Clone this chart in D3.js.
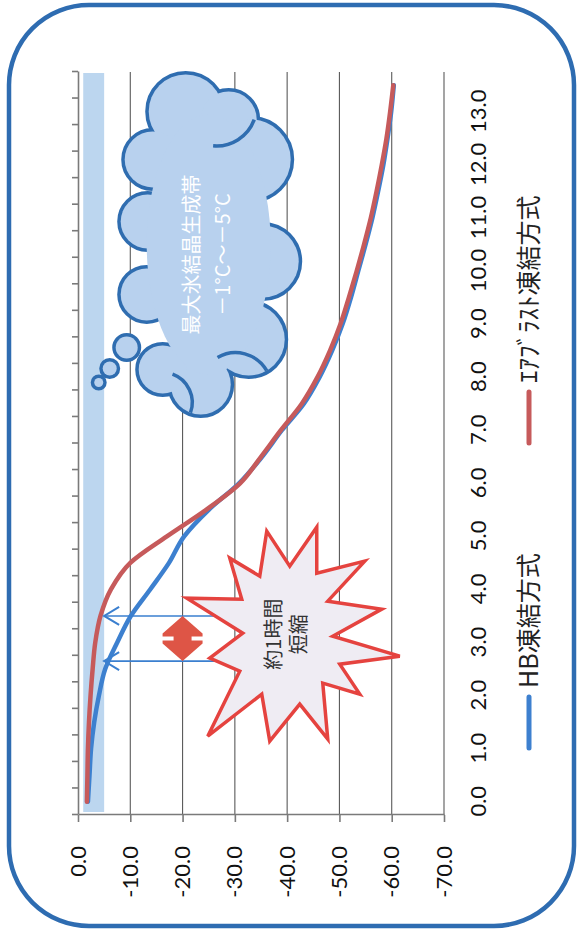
<!DOCTYPE html>
<html>
<head>
<meta charset="utf-8">
<script src="https://cdn.jsdelivr.net/npm/d3@7"></script>
<style>
  body { margin: 0; background: #fff; }
  svg { display: block; }
</style>
</head>
<body>
<svg id="chart" width="581" height="933"></svg>
<script>
// Elapsed freezing time (hours), one reading every half hour
const hours = [0.0, 0.5, 1.0, 1.5, 2.0, 2.5, 3.0, 3.5, 4.0, 4.5, 5.0, 5.5, 6.0, 6.5,
               7.0, 7.5, 8.0, 8.5, 9.0, 9.5, 10.0, 10.5, 11.0, 11.5, 12.0, 12.5, 13.0, 13.5];
// Core temperature (°C) — HB freezing
const hbTemps = [-1.9, -2.2, -2.5, -3.1, -4.0, -5.2, -7.5, -10.1, -13.8, -17.4, -20.3, -25.0, -30.8, -35.2,
                 -39.0, -43.2, -46.2, -48.6, -50.6, -52.2, -53.6, -55.0, -56.3, -57.4, -58.4, -59.2, -59.9, -60.4];
// Core temperature (°C) — air blast freezing
const airTemps = [-1.7, -1.8, -1.9, -2.1, -2.4, -2.8, -3.3, -4.3, -6.3, -10.0, -17.0, -24.5, -31.0, -35.0,
                  -38.8, -42.8, -45.8, -48.2, -50.2, -51.8, -53.3, -54.7, -56.0, -57.1, -58.1, -59.0, -59.7, -60.3];
const seriesNames = ["HB凍結方式", "ｴｱﾌﾞﾗｽﾄ凍結方式"];
const seriesColors = ["#3d80cf", "#c65a5b"];
// Axis ticks
const hourLabels = ["0.0", "1.0", "2.0", "3.0", "4.0", "5.0", "6.0", "7.0", "8.0", "9.0", "10.0", "11.0", "12.0", "13.0"];
const tempTicks = [0, -10, -20, -30, -40, -50, -60, -70];
const tempLabels = ["0.0", "-10.0", "-20.0", "-30.0", "-40.0", "-50.0", "-60.0", "-70.0"];
// Zone of maximum ice crystal formation
const zoneTemps = [-1, -5];
// Times at which each method passes through the zone (arrows), and callouts
const arrowHours = [2.65, 3.5];
const arrowTemps = [-5, -30];
const burstAt = { hour: 3.12, temp: -40.5 };
const cloudAt = { hour: 10.5, temp: -25 };

const W = 581, H = 933;
const svg = d3.select("#chart");

// Rounded panel border
svg.append("rect")
  .attr("x", 9).attr("y", 5).attr("width", 565).attr("height", 921)
  .attr("rx", 80).attr("ry", 80)
  .attr("fill", "#fff").attr("stroke", "#2e6cb1").attr("stroke-width", 4.5);

// The chart is laid out landscape and turned a quarter turn counter-clockwise
const g = svg.append("g").attr("transform", `translate(0,${H}) rotate(-90)`);
const plot = { left: 118, right: 861, top: 78, bottom: 444 };

const x = d3.scaleLinear().domain([-0.25, 13.75]).range([plot.left, plot.right]);
const y = d3.scaleLinear().domain([0, -70]).range([plot.top, plot.bottom]);

const numFont = "Lato, 'Open Sans', sans-serif";
const jpFont = "'Noto Sans CJK JP', 'Noto Sans', sans-serif";

// Ice-crystal band
g.append("rect")
  .attr("x", x(-0.25) + 3).attr("width", x(13.75) - x(-0.25) - 4)
  .attr("y", y(zoneTemps[0])).attr("height", y(zoneTemps[1]) - y(zoneTemps[0]))
  .attr("fill", "#bcd6ef");

// Gridlines
g.append("g").selectAll("line")
  .data(tempTicks.filter(t => t !== 0))
  .join("line")
  .attr("x1", plot.left).attr("x2", plot.right)
  .attr("y1", d => y(d)).attr("y2", d => y(d))
  .attr("stroke", "#5a5a5a").attr("stroke-width", 1.1);

// Temperature axis
const tempAxis = g.append("g")
  .attr("transform", `translate(${plot.left},0)`)
  .call(d3.axisLeft(y).tickValues(tempTicks)
    .tickFormat((d, i) => tempLabels[i]).tickSize(7).tickSizeOuter(0).tickPadding(24));
tempAxis.select(".domain").attr("stroke", "#7a7a7a").attr("stroke-width", 1.6);
tempAxis.selectAll(".tick line").attr("stroke", "#7a7a7a").attr("stroke-width", 1.6);
tempAxis.selectAll("text").attr("font-family", numFont).attr("font-size", 22).attr("fill", "#111");

// Time axis line with half-hour category ticks
const tickHours = hours.map(h => h - 0.25).concat([13.75]);
const timeAxis = g.append("g")
  .attr("transform", `translate(0,${plot.top})`)
  .call(d3.axisTop(x).tickValues(tickHours).tickFormat("").tickSize(6).tickSizeOuter(0));
timeAxis.select(".domain").attr("stroke", "#7a7a7a").attr("stroke-width", 1.6);
timeAxis.selectAll(".tick line").attr("stroke", "#7a7a7a").attr("stroke-width", 1.6);

// Time labels, placed below the plot
const labelAxis = g.append("g")
  .attr("transform", `translate(0,${plot.bottom})`)
  .call(d3.axisBottom(x).tickValues(hourLabels.map(Number))
    .tickFormat((d, i) => hourLabels[i]).tickSize(0).tickPadding(26));
labelAxis.select(".domain").remove();
labelAxis.selectAll("text").attr("font-family", numFont).attr("font-size", 22).attr("fill", "#111");

// Temperature curves
const line = d3.line().x((d, i) => x(hours[i])).y(d => y(d)).curve(d3.curveMonotoneX);
[hbTemps, airTemps].forEach((temps, k) => {
  g.append("path")
    .attr("d", line(temps))
    .attr("fill", "none")
    .attr("stroke", seriesColors[k])
    .attr("stroke-width", 4.5)
    .attr("stroke-linecap", "round")
    .attr("stroke-linejoin", "round");
});

// Arrows pointing back to the -5 °C edge
arrowHours.forEach(h => {
  const u = x(h), v0 = y(arrowTemps[0]), v1 = y(arrowTemps[1]);
  g.append("line").attr("x1", u).attr("x2", u).attr("y1", v0).attr("y2", v1)
    .attr("stroke", "#3a7fcf").attr("stroke-width", 1.6);
  g.append("path")
    .attr("d", `M${u - 9},${v0 + 15} L${u},${v0} L${u + 9},${v0 + 15}`)
    .attr("fill", "none").attr("stroke", "#3a7fcf").attr("stroke-width", 2);
});

// Up-down arrow between the two times
{
  const uc = (x(arrowHours[0]) + x(arrowHours[1])) / 2;
  const half = Math.abs(x(arrowHours[1]) - x(arrowHours[0])) / 2;
  const vc = y(-20);
  const pts = [[-half, 0], [-5, 20], [-2, 20], [-2, 9], [2, 9], [2, 20], [5, 20], [half, 0],
               [5, -20], [2, -20], [2, -9], [-2, -9], [-2, -20], [-5, -20]];
  g.append("polygon")
    .attr("points", pts.map(p => [uc + p[0], vc + p[1]].join(",")).join(" "))
    .attr("fill", "#de5546");
}

// Starburst callout
{
  const uc = x(burstAt.hour), vc = y(burstAt.temp);
  // outline as (right, down) pixel offsets on the page
  const offs = [[-23, -105], [0, -70], [27, -109], [27, -63], [75, -75], [38, -35], [92, -27], [43, 0],
                [110, 20], [50, 28], [70, 58], [33, 47], [38, 103], [10, 68], [-20, 105], [-28, 58],
                [-82, 100], [-50, 35], [-80, 22], [-47, -3], [-103, -38], [-48, -37], [-60, -78], [-30, -60]];
  g.append("polygon")
    .attr("points", offs.map(([dx, dy]) => [uc - dy, vc + dx].join(",")).join(" "))
    .attr("fill", "#efecf3").attr("stroke", "#e5433f").attr("stroke-width", 3.5)
    .attr("stroke-linejoin", "miter");
  const t = g.append("text")
    .attr("font-family", jpFont).attr("font-size", 20).attr("fill", "#333")
    .attr("text-anchor", "middle");
  t.append("tspan").attr("x", uc + 2).attr("y", vc - 16 + 7).text("約1時間");
  t.append("tspan").attr("x", uc + 2).attr("y", vc + 9 + 7).text("短縮");
}

// Thought-cloud callout
{
  const uc = x(cloudAt.hour), vc = y(cloudAt.temp);
  const P = (dx, dy) => [uc - dy, vc + dx];   // page offset -> chart frame
  const lobes = [[-23, -133, 37], [20, -125, 28], [42, -85, 40], [54, 17, 36], [40, 95, 36],
                 [-8, 140, 30], [-46, 125, 24], [-62, 50, 26], [-61, -23, 27], [-56, -85, 28]];
  const bubbles = [[-82, 103, 11], [-99, 124, 7], [-110, 138, 4.5]];
  const stroke = "#2f6db0", fill = "#b8d1ee";
  const cg = g.append("g");
  cg.selectAll("circle.outline").data(lobes.concat(bubbles)).join("circle")
    .attr("cx", d => P(d[0], d[1])[0]).attr("cy", d => P(d[0], d[1])[1]).attr("r", d => d[2])
    .attr("fill", fill).attr("stroke", stroke).attr("stroke-width", 7);
  cg.selectAll("circle.inner").data(lobes.concat(bubbles)).join("circle")
    .attr("cx", d => P(d[0], d[1])[0]).attr("cy", d => P(d[0], d[1])[1]).attr("r", d => d[2])
    .attr("fill", fill);
  const core = P(0, 0);
  cg.append("ellipse").attr("cx", core[0]).attr("cy", core[1]).attr("rx", 130).attr("ry", 62)
    .attr("fill", fill);
  // inner folds of the cloud
  const arcs = [[42, -85, 40, 200, 275], [-8, 140, 30, 110, 200], [40, 95, 36, 60, 150]];
  arcs.forEach(([dx, dy, r, a0, a1]) => {
    const pt = a => { const rad = a * Math.PI / 180; return P(dx + r * Math.cos(rad), dy + r * Math.sin(rad)); };
    const s = pt(a0), e = pt(a1);
    cg.append("path").attr("d", `M${s[0]},${s[1]} A${r},${r} 0 0 0 ${e[0]},${e[1]}`)
      .attr("fill", "none").attr("stroke", stroke).attr("stroke-width", 3.5);
  });
  const t = cg.append("text")
    .attr("font-family", jpFont).attr("font-size", 20).attr("fill", "#fff")
    .attr("text-anchor", "middle");
  t.append("tspan").attr("x", uc - 10).attr("y", vc - 17 + 7).text("最大氷結晶生成帯");
  t.append("tspan").attr("x", uc - 10).attr("y", vc + 14 + 7).text("－1°C～－5°C");
}

// Legend
{
  const lv = 529;
  const entries = [{ u0: 185, name: seriesNames[0], color: seriesColors[0] },
                   { u0: 490, name: seriesNames[1], color: seriesColors[1] }];
  entries.forEach(e => {
    g.append("line").attr("x1", e.u0).attr("x2", e.u0 + 51).attr("y1", lv).attr("y2", lv)
      .attr("stroke", e.color).attr("stroke-width", 5).attr("stroke-linecap", "round");
    g.append("text").attr("x", e.u0 + 60).attr("y", lv).attr("dy", "0.36em")
      .attr("font-family", jpFont).attr("font-size", 25).attr("fill", "#222")
      .text(e.name);
  });
}
</script>
</body>
</html>
